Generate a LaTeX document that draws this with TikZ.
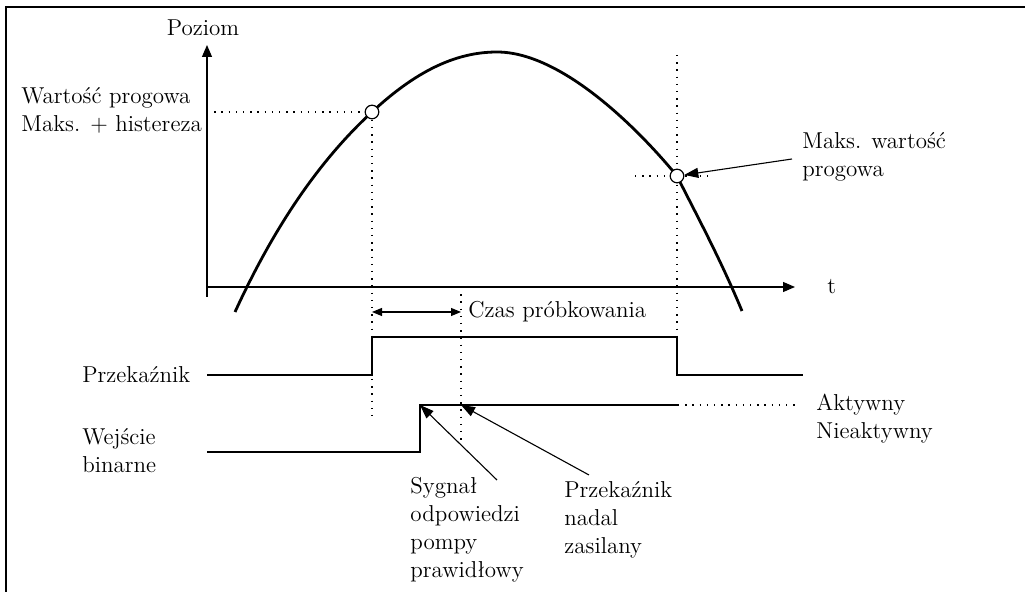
\documentclass[tikz,border=0pt]{standalone}
\usepackage{tikz}
\usetikzlibrary{arrows.meta, positioning}

\begin{document}
\begin{tikzpicture}[
    x=0.5pt, y=-0.5pt,
    font=\fontsize{11.5}{14}\selectfont,
    txt/.style={inner sep=0pt, align=left},
    axis/.style={line width=0.6pt, -{Triangle[length=6pt, width=5pt]}},
    level/.style={line width=1.4pt},
    guide/.style={line width=0.6pt, dash pattern=on 0.7pt off 2.9pt},
    pointer/.style={line width=0.55pt, -{Triangle[length=7pt, width=5pt]}},
    probe/.style={circle, draw, fill=white, line width=0.6pt, minimum size=6.8pt, inner sep=0pt}
]
\useasboundingbox (0,0) rectangle (1025,592);

% Frame
\draw[line width=1.2pt] (6,592) -- (6,7) -- (1025,7);

% Define axes
\coordinate (ybase) at (207,297);
\coordinate (ytop) at (207,45);
\coordinate (xbase) at (207,287);
\coordinate (xtip) at (795,287);
\draw[axis] (ybase) -- (ytop);
\draw[axis] (xbase) -- (xtip);

% Define nodes
\node[txt] (poziom) at (203,28) {Poziom};
\node[txt, right=16pt of xtip] (tlab) {t};
\node[txt, anchor=west] (thrup) at (21,110) {Wartość progowa\\Maks. + histereza};
\node[txt, anchor=west] (thrmax) at (802,157) {Maks. wartość\\progowa};
\node[txt, anchor=west] (czas) at (468,312) {Czas próbkowania};
\node[txt, anchor=west] (relay) at (82,375) {Przekaźnik};
\node[txt, anchor=west] (binin) at (82,451) {Wejście\\binarne};
\node[txt, anchor=west] (state) at (816,419) {Aktywny\\Nieaktywny};
\node[txt, anchor=west] (pump) at (410,530) {Sygnał\\odpowiedzi\\pompy\\prawidłowy};
\node[txt, anchor=west] (hold) at (564,520) {Przekaźnik\\nadal\\zasilany};

% Points on the level curve
\coordinate (c1) at (372,112);
\coordinate (c2) at (677,176);
\coordinate (stepin) at (420,405);
\coordinate (holdin) at (461,405);

% Dotted guides
\draw[guide] (207,112) -- (c1) -- (372,420);
\draw[guide] (461,287) -- (461,440);
\draw[guide] (677,55) -- (677,337);
\draw[guide] (635,176) -- (708,176);
\draw[guide] (678,405) -- (795,405);

% Level curve
\draw[level] (235,312) .. controls (275,225) and (320,160) .. (c1)
    .. controls (415,72) and (455,52) .. (497,52)
    .. controls (560,52) and (635,125) .. (c2)
    .. controls (695,212) and (720,258) .. (742,311);

\node[probe] (hi) at (c1) {};
\node[probe] (lo) at (c2) {};

% Relay and binary input
\draw[line width=1.3pt] (207,375) -- (372,375) -- (372,337) -- (677,337) -- (677,375) -- (803,375);
\draw[line width=0.7pt] (207,452) -- (420,452) -- (stepin) -- (678,405);

% Define arrows
\draw[{Triangle[length=5pt, width=4pt]}-{Triangle[length=5pt, width=4pt]}, line width=0.55pt] (372,312) -- (461,312);
\coordinate (lotail) at (792,159);
\coordinate (pumptail) at (497,480);
\coordinate (holdtail) at (589,475);
\draw[pointer] (lotail) -- (lo);
\draw[pointer] (pumptail) -- (stepin);
\draw[pointer] (holdtail) -- (holdin);

\end{tikzpicture}
\end{document}
